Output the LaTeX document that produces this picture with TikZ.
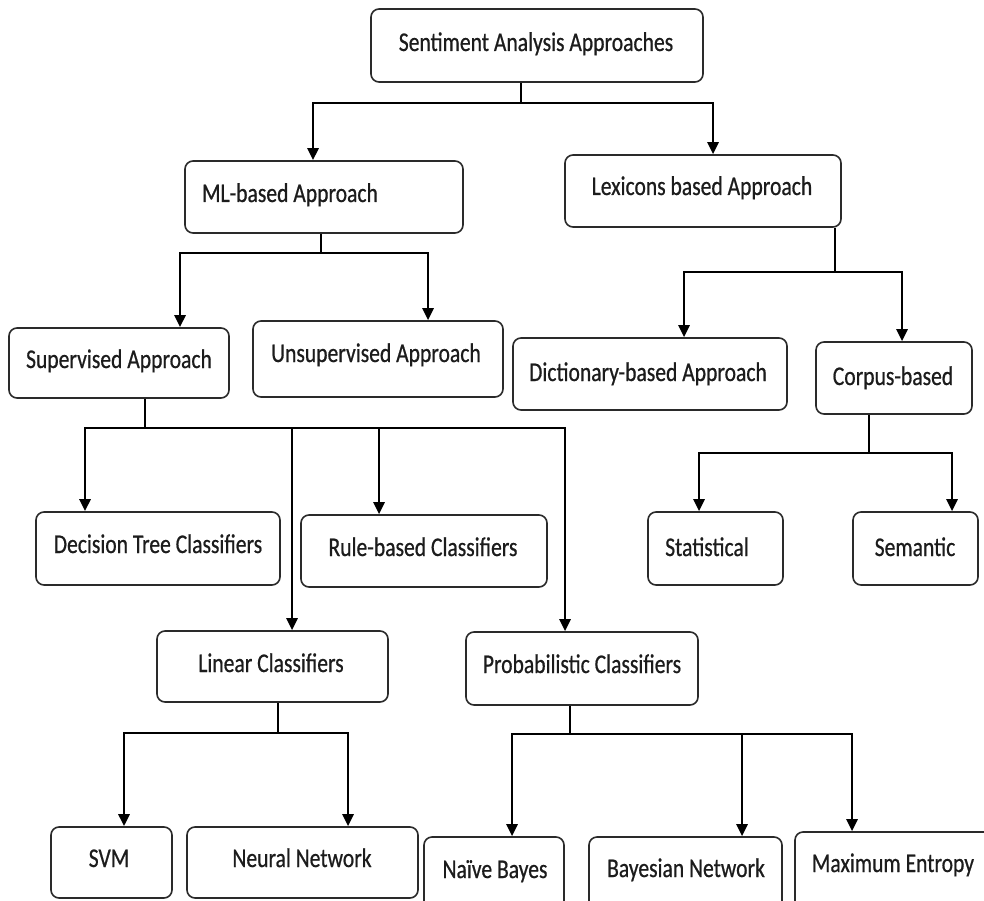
\documentclass[tikz,border=0pt]{standalone}
\usepackage{fontspec}
\setmainfont{Carlito}[FakeStretch=0.8, FakeBold=0.6]
\usetikzlibrary{arrows.meta,fit}

\definecolor{boxline}{HTML}{2A2A2A}
\definecolor{ink}{HTML}{1C1C1C}

\tikzset{
  box/.style={draw=boxline, line width=1.6pt, rounded corners=8pt,
              inner sep=0pt, fill=white},
  lbl/.style={text=ink, inner sep=0pt, anchor=base,
              font=\fontsize{27}{32}\selectfont},
  wire/.style={line width=2.6pt, draw=black},
  arr/.style={wire, -{Triangle[width=11pt,length=12pt]}},
}

\begin{document}
\begin{tikzpicture}[x=1pt, y=-1pt]
\useasboundingbox (0,0) rectangle (984,901);
\clip (0,0) rectangle (984,901);

% ---------- boxes ----------
\node[box, fit={(371,9)(703,82)}]    (root)   {};
\node[box, fit={(185,161)(463,233)}] (ml)     {};
\node[box, fit={(565,155)(841,227)}] (lex)    {};
\node[box, fit={(9,328)(229,398)}]   (sup)    {};
\node[box, fit={(253,321)(503,397)}] (unsup)  {};
\node[box, fit={(513,338)(787,410)}] (dict)   {};
\node[box, fit={(816,342)(972,414)}] (corpus) {};
\node[box, fit={(36,512)(280,585)}]  (dec)    {};
\node[box, fit={(301,515)(547,587)}] (rule)   {};
\node[box, fit={(648,512)(783,585)}] (stat)   {};
\node[box, fit={(853,512)(978,585)}] (sem)    {};
\node[box, fit={(157,631)(388,702)}] (lin)    {};
\node[box, fit={(466,632)(698,705)}] (prob)   {};
\node[box, fit={(51,827)(172,898)}]  (svm)    {};
\node[box, fit={(187,827)(418,898)}] (nn)     {};
\node[box, fit={(424,837)(564,915)}] (nb)     {};
\node[box, fit={(589,837)(782,915)}] (bn)     {};
\node[box, fit={(795,832)(1000,915)}] (me)    {};

% ---------- labels ----------
\node[lbl] (troot)   at (536,51)  {Sentiment Analysis Approaches};
\node[lbl] (tml)     at (290,202) {ML-based Approach};
\node[lbl] (tlex)    at (702,195) {Lexicons based Approach};
\node[lbl] (tsup)    at (119,368) {Supervised Approach};
\node[lbl] (tunsup)  at (376,362) {Unsupervised Approach};
\node[lbl] (tdict)   at (648,381) {Dictionary-based Approach};
\node[lbl] (tcorpus) at (893,385) {Corpus-based};
\node[lbl] (tdec)    at (158,553) {Decision Tree Classifiers};
\node[lbl] (trule)   at (423,556) {Rule-based Classifiers};
\node[lbl] (tstat)   at (707,556) {Statistical};
\node[lbl] (tsem)    at (915,556) {Semantic};
\node[lbl] (tlin)    at (271,672) {Linear Classifiers};
\node[lbl] (tprob)   at (582,673) {Probabilistic Classifiers};
\node[lbl] (tsvm)    at (109,867) {SVM};
\node[lbl] (tnn)     at (302,867) {Neural Network};
\node[lbl] (tnb)     at (495,878) {Naïve Bayes};
\node[lbl] (tbn)     at (686,877) {Bayesian Network};
\node[lbl] (tme)     at (893,872) {Maximum Entropy};

% ---------- junction points ----------
\coordinate (jroot)   at (521,103);
\coordinate (jml)     at (321,253);
\coordinate (jlex)    at (835,272);
\coordinate (jsup)    at (145,428);
\coordinate (jcorpus) at (869,453);
\coordinate (jlin)    at (278,733);
\coordinate (jprob)   at (570,734);

% ---------- connectors ----------
\draw[wire] (521,0 |- root.south) -- (jroot);
\draw[arr]  (jroot) -| (313,0 |- ml.north);
\draw[arr]  (jroot) -| (713,0 |- lex.north);

\draw[wire] (321,0 |- ml.south) -- (jml);
\draw[arr]  (jml) -| (180,0 |- sup.north);
\draw[arr]  (jml) -| (428,0 |- unsup.north);

\draw[wire] (835,0 |- lex.south) -- (jlex);
\draw[arr]  (jlex) -| (684,0 |- dict.north);
\draw[arr]  (jlex) -| (902,0 |- corpus.north);

\draw[wire] (145,0 |- sup.south) -- (jsup);
\draw[arr]  (jsup) -| (85,0 |- dec.north);
\draw[arr]  (jsup) -| (292,0 |- lin.north);
\draw[arr]  (jsup) -| (379,0 |- rule.north);
\draw[arr]  (jsup) -| (565,0 |- prob.north);

\draw[wire] (869,0 |- corpus.south) -- (jcorpus);
\draw[arr]  (jcorpus) -| (699,0 |- stat.north);
\draw[arr]  (jcorpus) -| (952,0 |- sem.north);

\draw[wire] (278,0 |- lin.south) -- (jlin);
\draw[arr]  (jlin) -| (124,0 |- svm.north);
\draw[arr]  (jlin) -| (348,0 |- nn.north);

\draw[wire] (570,0 |- prob.south) -- (jprob);
\draw[arr]  (jprob) -| (512,0 |- nb.north);
\draw[arr]  (jprob) -| (742,0 |- bn.north);
\draw[arr]  (jprob) -| (852,0 |- me.north);
\end{tikzpicture}
\end{document}
